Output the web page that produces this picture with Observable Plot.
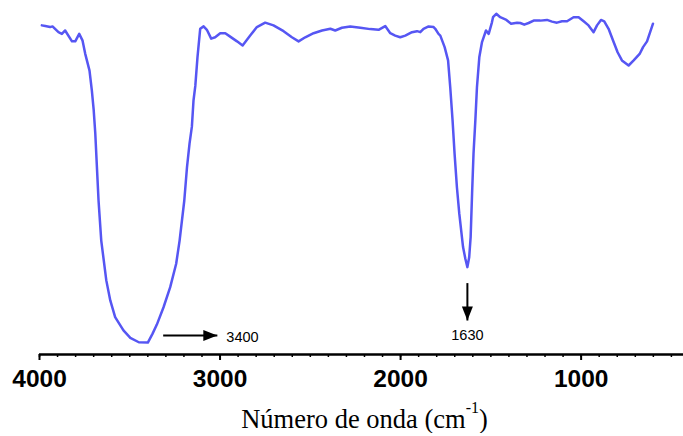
<!DOCTYPE html>
<html>
<head>
<meta charset="utf-8">
<script src="https://cdn.jsdelivr.net/npm/d3@7"></script>
<script src="https://cdn.jsdelivr.net/npm/@observablehq/plot@0.6"></script>
<style>
  html, body { margin: 0; padding: 0; background: #fff; }
  #chart svg { display: block; }
  #xtitle {
    width: 683px;
    box-sizing: border-box;
    padding-left: 46px;
    padding-top: 2px;
    text-align: center;
    font-family: "Liberation Serif", "Times New Roman", serif;
    font-size: 26.5px;
    line-height: 26.5px;
    color: #000;
    white-space: nowrap;
  }
  #xtitle sup { font-size: 16px; line-height: 0; vertical-align: 15px; }
</style>
</head>
<body>
<div id="chart"></div>
<div id="xtitle">Número de onda (cm<sup>-1</sup>)</div>
<script>
// IR spectrum: wavenumber (cm-1) and transmittance (%)
const wavenumber = [
  3987, 3968, 3941, 3928, 3895, 3876, 3858, 3820, 3802, 3780, 3762, 3747, 3723, 3710,
  3700, 3691, 3682, 3673, 3658, 3630, 3608, 3581, 3535, 3497, 3450, 3400, 3375, 3350,
  3313, 3276, 3243, 3224, 3198, 3183, 3169, 3156, 3147, 3137, 3125, 3110, 3091, 3073,
  3049, 3027, 2999, 2971, 2944, 2906, 2875, 2833, 2796, 2750, 2704, 2648, 2602, 2565,
  2528, 2482, 2435, 2389, 2362, 2325, 2279, 2223, 2168, 2122, 2085, 2057, 2030, 2002,
  1974, 1937, 1909, 1891, 1873, 1845, 1817, 1808, 1790, 1780, 1756, 1737, 1725, 1712,
  1701, 1688, 1675, 1654, 1641, 1630, 1620, 1612, 1604, 1596, 1586, 1577, 1564, 1549,
  1527, 1512, 1494, 1488, 1470, 1448, 1414, 1388, 1355, 1337, 1315, 1291, 1263, 1226,
  1189, 1161, 1134, 1106, 1078, 1042, 1014, 986, 959, 931, 912, 890, 872, 848,
  820, 798, 774, 737, 709, 676, 657, 635, 602
];
const transmittance = [
  96.8, 96.6, 96.3, 96.5, 94.8, 94.3, 95.3, 92.1, 92.1, 94.3, 92.4, 88.5, 83.5, 77.6,
  72.0, 65.0, 55.1, 45.3, 33.5, 21.8, 15.9, 11.0, 7.1, 4.9, 3.6, 3.5, 6.0, 8.8,
  13.9, 19.8, 26.7, 33.5, 45.3, 55.1, 62.0, 67.0, 74.7, 79.0, 87.4, 95.8, 96.5, 95.5,
  92.9, 93.3, 94.5, 94.5, 93.5, 92.1, 90.9, 93.8, 96.3, 97.6, 96.8, 95.1, 93.3, 92.1,
  93.3, 94.5, 95.3, 95.8, 95.3, 96.1, 96.5, 96.1, 95.7, 95.5, 96.6, 94.5, 93.8, 93.3,
  93.8, 94.8, 95.1, 94.8, 95.8, 96.5, 96.3, 95.8, 94.3, 93.8, 90.4, 86.5, 78.6, 68.8,
  59.1, 49.2, 41.5, 31.6, 28.1, 25.7, 28.6, 34.5, 47.4, 59.1, 68.8, 78.6, 87.4, 91.9,
  95.3, 94.3, 97.7, 99.2, 100.2, 99.2, 98.4, 97.3, 97.6, 97.5, 97.0, 97.5, 98.2, 98.2,
  98.4, 97.9, 97.6, 98.0, 98.0, 99.2, 99.2, 98.0, 96.8, 94.8, 96.8, 98.4, 98.0, 95.8,
  91.9, 88.9, 86.5, 85.0, 86.5, 88.4, 90.4, 92.1, 97.3
];

// axis ticks
const majorTicks = [4000, 3000, 2000, 1000];
const minorTicks = d3.range(500, 4001, 100);

// band annotations: arrow from (x1, y1) to the tip (x2, y2), label at (lx, ly)
const bandLabel = ["3400", "1630"];
const arrowX1 = [3315, 1630];
const arrowX2 = [3015, 1630];
const arrowY1 = [5.6, 21.0];
const arrowY2 = [5.6, 10.0];
const labelX = [2965, 1630];
const labelY = [5.0, 5.5];
const headAngle = [90, 180];

const spectrum = wavenumber.map((w, i) => ({w, t: transmittance[i]}));
const bands = bandLabel.map((label, i) => ({
  label, x1: arrowX1[i], x2: arrowX2[i], y1: arrowY1[i], y2: arrowY2[i],
  lx: labelX[i], ly: labelY[i], angle: headAngle[i]
}));
const sideLabels = bands.filter((d) => d.angle === 90);   // label beside a horizontal arrow
const belowLabels = bands.filter((d) => d.angle !== 90);  // label under a vertical arrow

// filled arrowhead with its tip at the origin, pointing up
const arrowHead = {
  draw(context) {
    context.moveTo(0, 0);
    context.lineTo(5.5, 14);
    context.lineTo(-5.5, 14);
    context.closePath();
  }
};

const chart = Plot.plot({
  width: 683,
  height: 404,
  marginLeft: 39,
  marginRight: 0,
  marginTop: 14,
  marginBottom: 50,
  style: {background: "white", fontFamily: "'Liberation Sans', Arial, sans-serif", color: "black"},
  x: {domain: [4000, 433]},
  y: {domain: [0, 100], axis: null},
  marks: [
    Plot.axisX({ticks: minorTicks, tickSize: 3, strokeWidth: 1.5, tickFormat: () => "", label: null}),
    Plot.axisX({
      ticks: majorTicks, tickSize: 6, tickPadding: 9, strokeWidth: 2,
      tickFormat: (d) => `${d}`, fontSize: 24.5, fontWeight: "bold", label: null
    }),
    Plot.ruleY([0], {stroke: "black", strokeWidth: 2.5}),
    Plot.line(spectrum, {x: "w", y: "t", stroke: "#5656f3", strokeWidth: 2.5}),
    Plot.link(bands, {x1: "x1", y1: "y1", x2: "x2", y2: "y2", stroke: "black", strokeWidth: 2}),
    Plot.dot(bands, {x: "x2", y: "y2", symbol: arrowHead, rotate: "angle", fill: "black", stroke: "none"}),
    Plot.text(sideLabels, {x: "lx", y: "ly", text: "label", fontSize: 14.5, fill: "black", textAnchor: "start"}),
    Plot.text(belowLabels, {x: "lx", y: "ly", text: "label", fontSize: 14.5, fill: "black", textAnchor: "middle"})
  ]
});

document.getElementById("chart").append(chart);
</script>
</body>
</html>
